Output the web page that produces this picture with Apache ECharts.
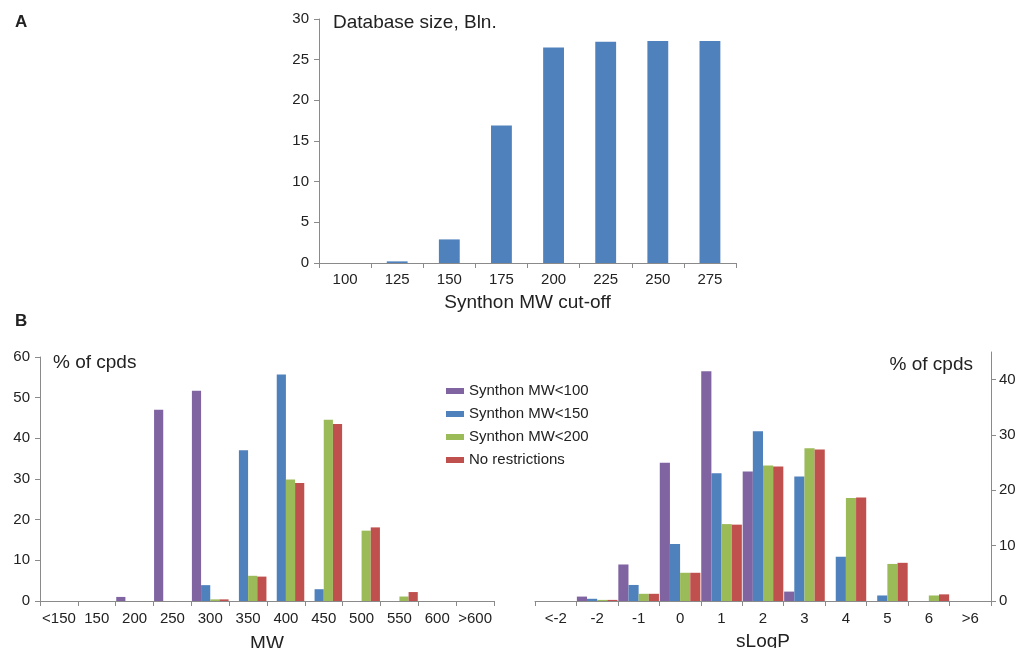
<!DOCTYPE html>
<html>
<head>
<meta charset="utf-8">
<script src="https://cdn.jsdelivr.net/npm/echarts@6/dist/echarts.min.js"></script>
<style>
html,body{margin:0;padding:0;background:#fff;}
#chart{width:1017px;height:648px;}
</style>
</head>
<body>
<div id="chart"></div>
<script>
// ---- Data ----
const cutoffCategories = ['100','125','150','175','200','225','250','275'];
const databaseSize = [0, 0.2, 2.9, 16.9, 26.5, 27.2, 27.3, 27.3];

const mwCategories = ['<150','150','200','250','300','350','400','450','500','550','600','>600'];
const mwSynthon100 = [0, 0, 1.0, 47.0, 51.7, 0, 0, 0, 0, 0, 0, 0];
const mwSynthon150 = [0, 0, 0, 0, 3.9, 37.1, 55.7, 2.9, 0, 0, 0, 0];
const mwSynthon200 = [0, 0, 0, 0, 0.4, 6.2, 29.9, 44.6, 17.3, 1.1, 0, 0];
const mwNoRestr    = [0, 0, 0, 0, 0.4, 6.0, 29.0, 43.5, 18.1, 2.2, 0, 0];

const logpCategories = ['<-2','-2','-1','0','1','2','3','4','5','6','>6'];
const logpSynthon100 = [0, 0.8, 6.6, 25.0, 41.5, 23.4, 1.7, 0, 0, 0, 0];
const logpSynthon150 = [0, 0.4, 2.9, 10.3, 23.1, 30.7, 22.5, 8.0, 1.0, 0, 0];
const logpSynthon200 = [0, 0.2, 1.3, 5.1, 13.9, 24.5, 27.6, 18.6, 6.7, 1.0, 0];
const logpNoRestr    = [0, 0.2, 1.3, 5.1, 13.8, 24.3, 27.4, 18.7, 6.9, 1.2, 0];

const seriesNames = ['Synthon MW<100','Synthon MW<150','Synthon MW<200','No restrictions'];
const seriesColors = ['#8064A2','#4F81BD','#9BBB59','#C0504D'];

const rightYTicks = [0,10,20,30,40];

// ---- Styles ----
const FF = '"Liberation Sans", Arial, sans-serif';
const AX = '#8a8a8a';
const TXT = '#222';

function xAxis(gridIndex, data, labelMargin, name, nameGap) {
  return {
    type: 'category', gridIndex, data,
    boundaryGap: true,
    axisLine: {show: true, lineStyle: {color: AX, width: 1}},
    axisTick: {show: true, interval: 0, alignWithLabel: false, length: 5, lineStyle: {color: AX}},
    axisLabel: {interval: 0, margin: labelMargin, color: TXT, fontSize: 15, fontFamily: FF},
    name, nameLocation: 'middle', nameGap,
    nameTextStyle: {color: TXT, fontSize: 19, fontFamily: FF},
    splitLine: {show: false}
  };
}
function yAxis(gridIndex, min, max, interval, position, extra) {
  return Object.assign({
    type: 'value', gridIndex, min, max, interval, position,
    axisLine: {show: true, lineStyle: {color: AX, width: 1}},
    axisTick: {show: true, length: 5, lineStyle: {color: AX}},
    axisLabel: {margin: 10, color: TXT, fontSize: 15, fontFamily: FF},
    splitLine: {show: false}
  }, extra || {});
}

const mwData = [mwSynthon100, mwSynthon150, mwSynthon200, mwNoRestr];
const logpData = [logpSynthon100, logpSynthon150, logpSynthon200, logpNoRestr];

const series = [{
  type: 'bar', name: 'Database size', xAxisIndex: 0, yAxisIndex: 0,
  data: databaseSize, barCategoryGap: '60%',
  itemStyle: {color: '#4F81BD'}
}];
seriesNames.forEach((n, i) => {
  series.push({
    type: 'bar', name: n, xAxisIndex: 1, yAxisIndex: 1, data: mwData[i],
    barGap: '0%', barCategoryGap: '3%', itemStyle: {color: seriesColors[i]}
  });
});
seriesNames.forEach((n, i) => {
  series.push({
    type: 'bar', name: n, xAxisIndex: 2, yAxisIndex: 2, data: logpData[i],
    barGap: '0%', barCategoryGap: '2%', itemStyle: {color: seriesColors[i]}
  });
});

function txt(x, y, text, size, align, weight) {
  return {
    type: 'text', x, y,
    style: {
      text, fill: TXT, fontSize: size, fontFamily: FF, fontWeight: weight || 'normal',
      align, textAlign: align, verticalAlign: 'middle', textVerticalAlign: 'middle'
    }
  };
}

const option = {
  animation: false,
  backgroundColor: '#fff',
  grid: [
    {left: 319, top: 19, width: 417, height: 244, containLabel: false, outerBoundsMode: 'none'},
    {left: 40, top: 357, width: 454, height: 244, containLabel: false, outerBoundsMode: 'none'},
    {left: 535, top: 352, width: 456, height: 249, containLabel: false, outerBoundsMode: 'none'}
  ],
  xAxis: [
    xAxis(0, cutoffCategories, 9, 'Synthon MW cut-off', 30),
    xAxis(1, mwCategories, 10, 'MW', 33),
    xAxis(2, logpCategories, 10, 'sLogP', 31)
  ],
  yAxis: [
    yAxis(0, 0, 30, 5, 'left'),
    yAxis(1, 0, 60, 10, 'left'),
    yAxis(2, 0, 45, 10, 'right', {
      axisTick: {show: true, length: 5, lineStyle: {color: AX}, customValues: rightYTicks},
      axisLabel: {margin: 8, color: TXT, fontSize: 15, fontFamily: FF, customValues: rightYTicks}
    })
  ],
  legend: {
    data: seriesNames,
    orient: 'vertical',
    left: 441, top: 378,
    icon: 'rect',
    itemWidth: 18, itemHeight: 6,
    itemGap: 7,
    textStyle: {color: TXT, fontSize: 15, fontFamily: FF, lineHeight: 16},
    selectedMode: true
  },
  graphic: [
    txt(15, 22, 'A', 17, 'left', 'bold'),
    txt(15, 321, 'B', 17, 'left', 'bold'),
    txt(333, 23, 'Database size, Bln.', 19, 'left'),
    txt(53, 363, '% of cpds', 19, 'left'),
    txt(973, 365, '% of cpds', 19, 'right')
  ],
  series
};

const chart = echarts.init(document.getElementById('chart'), null, {renderer: 'canvas'});
chart.setOption(option);
</script>
</body>
</html>
